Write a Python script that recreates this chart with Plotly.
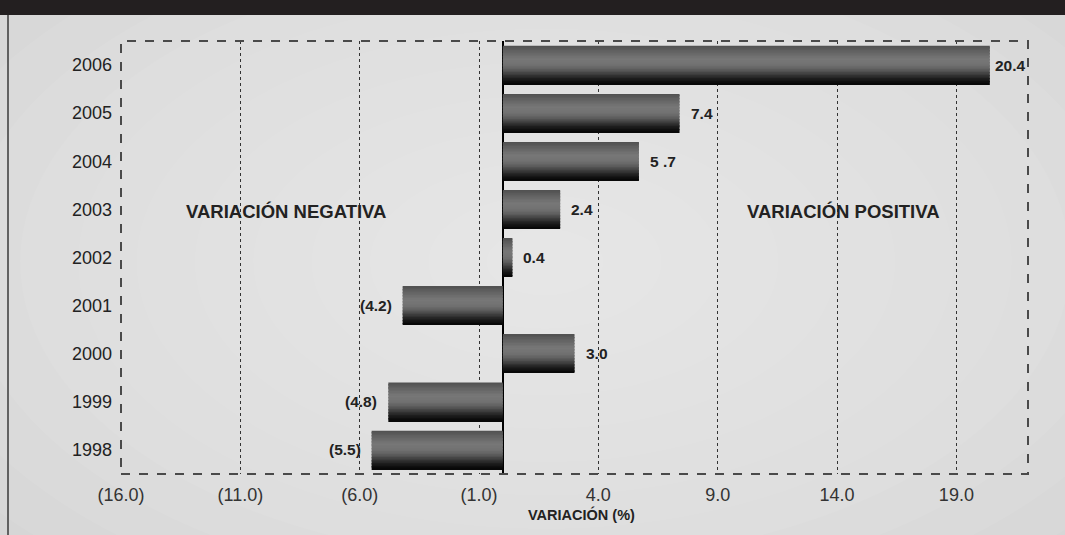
import plotly.graph_objects as go

# ---- data ----
years = ["1998", "1999", "2000", "2001", "2002", "2003", "2004", "2005", "2006"]
values = [-5.5, -4.8, 3.0, -4.2, 0.4, 2.4, 5.7, 7.4, 20.4]
labels = ["(5.5)", "(4.8)", "3.0", "(4.2)", "0.4", "2.4", "5 .7", "7.4", "20.4"]
tick_vals = [-16, -11, -6, -1, 4, 9, 14, 19]
tick_text = ["(16.0)", "(11.0)", "(6.0)", "(1.0)", "4.0", "9.0", "14.0", "19.0"]

FONT = "Liberation Sans, Arial, sans-serif"

# ---- geometry (pixels) ----
W, H = 1065, 535
L, R, T, B = 121, 37, 41, 61
pw, ph = W - L - R, H - T - B


def px_x(x):
    return (x - L) / pw


def px_y(y):
    return (H - B - y) / ph


# gradient key colours for the bars (top -> bottom), smoothed into thin strips
key = [(0.0, 80), (0.15, 98), (0.35, 120), (0.5, 114), (0.62, 96),
       (0.75, 60), (0.87, 28), (1.0, 5)]


def grey_at(t):
    for (t0, g0), (t1, g1) in zip(key[:-1], key[1:]):
        if t0 <= t <= t1:
            g = g0 + (g1 - g0) * (t - t0) / (t1 - t0)
            return "rgb(%d,%d,%d)" % (g, g, g)
    return "rgb(5,5,5)"


n = 26
strip_colors = [grey_at((i + 0.5) / n) for i in range(n)]
bar_w = 0.8
sw = bar_w / n

fig = go.Figure()
for i, c in enumerate(strip_colors):
    eps = 0.004 if i > 0 else 0.0
    fig.add_trace(go.Bar(
        y=years, x=values, orientation="h",
        marker=dict(color=c, line=dict(width=0)),
        width=sw + eps, offset=bar_w / 2 - (i + 1) * sw,
        hoverinfo="skip", showlegend=False,
    ))

annotations = []
for idx, (v, lab) in enumerate(zip(values, labels)):
    pos = v >= 0
    shift = (3 if v > 19 else 9) if pos else -9
    annotations.append(dict(
        x=v, y=idx, xref="x", yref="y", text="<b>" + lab + "</b>", showarrow=False,
        xanchor="left" if pos else "right", yanchor="middle", xshift=shift,
        font=dict(family=FONT, size=15.5, color="#222222")))

annotations += [
    dict(xref="paper", yref="paper", x=px_x(286), y=px_y(211),
         xanchor="center", yanchor="middle",
         text="<b>VARIACIÓN NEGATIVA</b>", showarrow=False,
         font=dict(family=FONT, size=18.5, color="#222222")),
    dict(xref="paper", yref="paper", x=px_x(843), y=px_y(211),
         xanchor="center", yanchor="middle",
         text="<b>VARIACIÓN POSITIVA</b>", showarrow=False,
         font=dict(family=FONT, size=18.5, color="#222222")),
    dict(xref="paper", yref="paper", x=px_x(581), y=px_y(514),
         xanchor="center", yanchor="middle",
         text="<b>VARIACIÓN (%)</b>", showarrow=False,
         font=dict(family=FONT, size=14.5, color="#222222")),
]

shapes = []
# soft lighter centre in the background
cx, cy = px_x(545), px_y(262)
for k in range(12):
    f = 1 - k / 12
    rx, ry = 700 * f, 400 * f
    shapes.append(dict(type="circle", xref="paper", yref="paper", layer="below",
                       x0=cx - rx / pw, x1=cx + rx / pw, y0=cy - ry / ph, y1=cy + ry / ph,
                       fillcolor="rgba(255,255,255,0.06)", line=dict(width=0)))
# dashed frame around the plot
shapes.append(dict(type="rect", xref="paper", yref="paper", x0=0, x1=1, y0=0, y1=1,
                   line=dict(color="#4a4a4a", width=2, dash="dash")))
# top black band
shapes.append(dict(type="rect", xref="paper", yref="paper",
                   x0=px_x(-20), x1=px_x(W + 20), y0=px_y(15), y1=px_y(-20),
                   fillcolor="#231f20", line=dict(width=0)))
# left border line
shapes.append(dict(type="line", xref="paper", yref="paper",
                   x0=px_x(8), x1=px_x(8), y0=px_y(15), y1=px_y(H + 20),
                   line=dict(color="#3a3a3a", width=1.5)))

fig.update_layout(
    width=W, height=H,
    margin=dict(l=L, r=R, t=T, b=B),
    paper_bgcolor="#d6d6d6", plot_bgcolor="rgba(0,0,0,0)",
    barmode="overlay", bargap=0.2,
    annotations=annotations, shapes=shapes,
    font=dict(family=FONT),
)
fig.update_xaxes(
    range=[-16, 22], tickvals=tick_vals, ticktext=tick_text,
    showgrid=True, gridcolor="#333333", griddash="dot", gridwidth=1,
    zeroline=True, zerolinecolor="#000000", zerolinewidth=1.5,
    ticks="", ticklabelstandoff=8, showline=False,
    tickfont=dict(family=FONT, size=18, color="#333333"),
)
fig.update_yaxes(
    type="category", categoryorder="array", categoryarray=years,
    range=[-0.5, 8.5], showgrid=False, zeroline=False, ticks="",
    ticklabelstandoff=8, showline=False,
    tickfont=dict(family=FONT, size=18, color="#222222"),
)

fig.write_html("out.html", config={"displayModeBar": False},
               post_script="document.body.style.margin='0';")
